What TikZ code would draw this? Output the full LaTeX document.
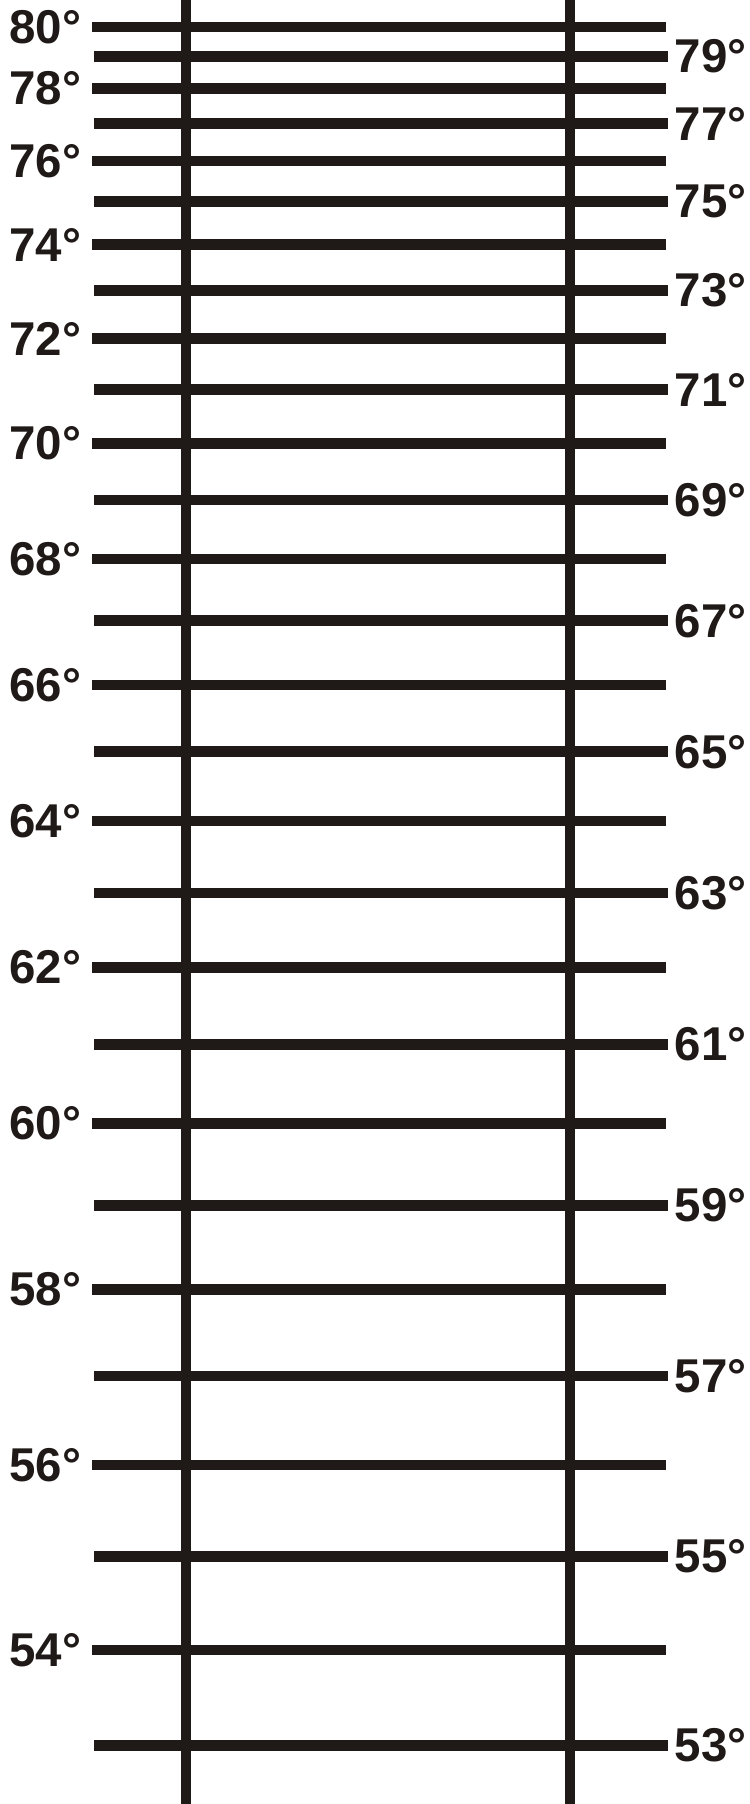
\documentclass[tikz,border=0pt]{standalone}
\usepackage{fontspec}
\setmainfont{Liberation Sans}
\usepackage{tikz}
\definecolor{ink}{HTML}{1F1A17}
\tikzset{
  bar/.style={ink,line width=1mm},
  rung/.style={ink,line width=1.05mm},
  lab/.style={ink,inner sep=0pt,font=\bfseries\fontsize{13.5}{15}\selectfont}
}
\begin{document}
\begin{tikzpicture}[x=0.1mm,y=-0.1mm]
  \useasboundingbox (0,0) rectangle (749,1804);
  % the two uprights
  \draw[bar] (186,0) -- (186,1804);
  \draw[bar] (570,0) -- (570,1804);
  % one rung per degree, spaced by sine
  \foreach \d in {53,...,80}{
    \pgfmathsetmacro\yy{27+9231*(sin(80)-sin(\d))}
    \pgfmathparse{int(mod(\d,2))}
    \ifnum\pgfmathresult=0
      \draw[rung] (92,\yy) -- (666,\yy);
      \node[lab,anchor=east] (l\d) at (82,\yy) {\d°};
    \else
      \draw[rung] (94,\yy) -- (668,\yy);
      \node[lab,anchor=west] (r\d) at (674,\yy) {\d°};
    \fi
  }
\end{tikzpicture}
\end{document}
